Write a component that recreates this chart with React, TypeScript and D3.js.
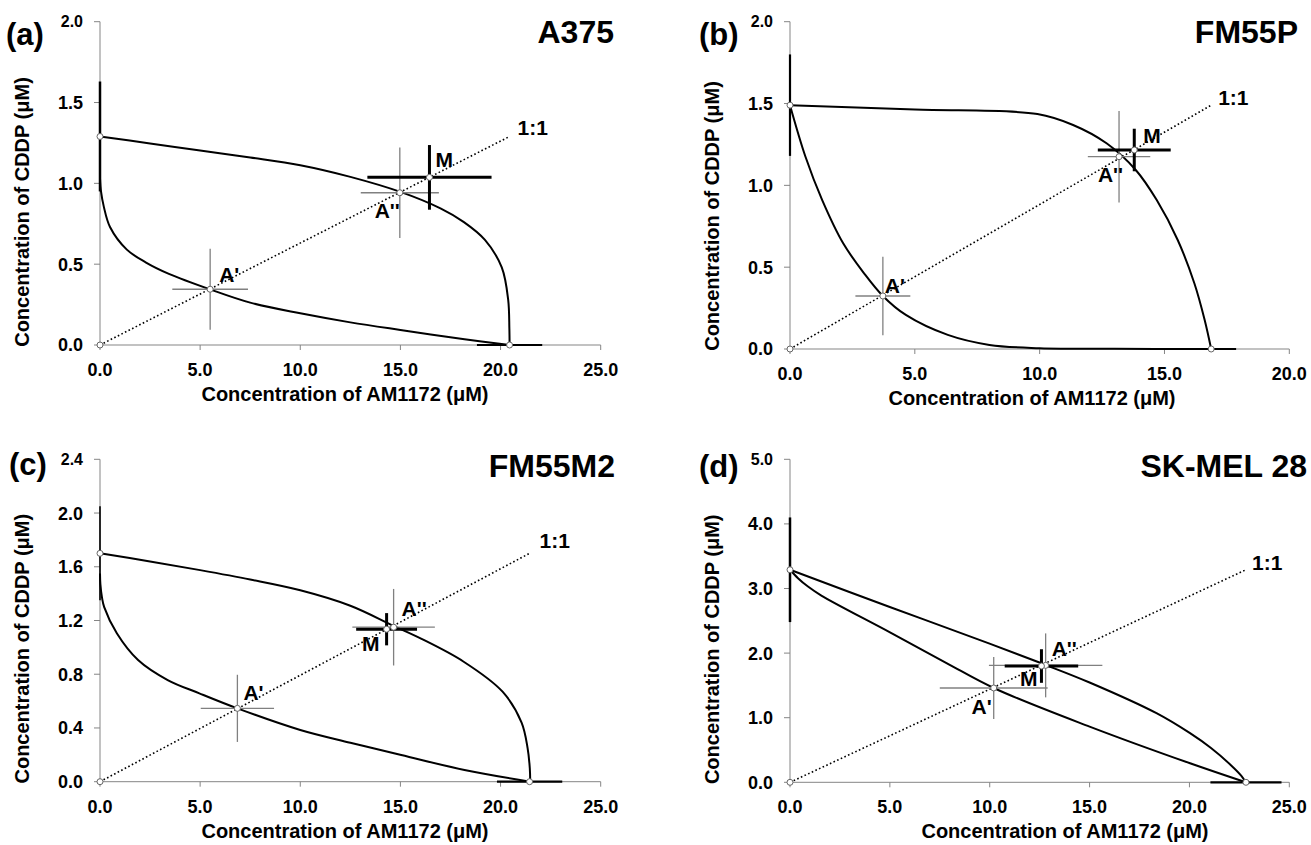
import * as d3 from "d3";

// panel labels and cell lines
const panelLetters = ["(a)", "(b)", "(c)", "(d)"];
const cellLines = ["A375", "FM55P", "FM55M2", "SK-MEL 28"];

// axis ranges and tick values
const xMax = [25, 20, 25, 25];
const yMax = [2.0, 2.0, 2.4, 5.0];
const xTickValues = [
  [0, 5, 10, 15, 20, 25],
  [0, 5, 10, 15, 20],
  [0, 5, 10, 15, 20, 25],
  [0, 5, 10, 15, 20, 25],
];
const yTickValues = [
  [0, 0.5, 1.0, 1.5, 2.0],
  [0, 0.5, 1.0, 1.5, 2.0],
  [0, 0.4, 0.8, 1.2, 1.6, 2.0, 2.4],
  [0, 1, 2, 3, 4, 5],
];

// isobole curves [AM1172, CDDP]
const upperA = [[0, 1.29], [2.5, 1.247], [5, 1.203], [7.5, 1.16], [10, 1.112], [12.5, 1.04], [15, 0.947], [17, 0.845], [18.17, 0.76], [19.22, 0.65], [20.06, 0.48], [20.38, 0.28], [20.44, 0.1], [20.45, 0]];
const lowerA = [[0, 1.03], [0.05, 0.95], [0.19, 0.856], [0.5, 0.73], [1.34, 0.59], [2.3, 0.51], [3.44, 0.44], [5.5, 0.344], [7.5, 0.262], [10, 0.196], [12.5, 0.14], [15, 0.093], [18.2, 0.036], [20.45, 0]];
const upperB = [[0, 1.49], [5, 1.463], [9.91, 1.436], [11.34, 1.369], [12.68, 1.257], [13.85, 1.094], [14.69, 0.91], [15.53, 0.666], [16.2, 0.4], [16.61, 0.177], [16.87, 0]];
const lowerB = [[0, 1.49], [0.62, 1.175], [1.29, 0.91], [2.13, 0.646], [2.97, 0.462], [3.72, 0.324], [4.64, 0.208], [6.32, 0.086], [7.99, 0.025], [10, 0.005], [13, 0.001], [16.87, 0]];
const upperC = [[0, 1.7], [2.5, 1.64], [5, 1.575], [7.5, 1.505], [10, 1.425], [12.5, 1.31], [14.66, 1.16], [16.03, 1.065], [18.14, 0.895], [20.1, 0.67], [21.05, 0.44], [21.35, 0.25], [21.46, 0.1], [21.48, 0]];
const lowerC = [[0, 1.55], [0.02, 1.47], [0.1, 1.37], [0.21, 1.3], [0.84, 1.105], [1.9, 0.906], [3.38, 0.757], [4.96, 0.658], [6.86, 0.546], [10, 0.385], [12.5, 0.29], [15.04, 0.199], [18.2, 0.087], [21.48, 0]];
const upperD = [[0, 3.29], [5.03, 2.71], [9.96, 2.15], [12.77, 1.82], [15, 1.545], [18.35, 1.07], [20.03, 0.76], [21.08, 0.53], [22.13, 0.25], [22.6, 0.1], [22.82, 0]];
const lowerD = [[0, 3.29], [0.4, 3.16], [0.9, 3.03], [1.57, 2.89], [5.03, 2.317], [7.86, 1.842], [10.2, 1.46], [15, 0.862], [20.03, 0.294], [22.82, 0]];
const upperCurves = [upperA, upperB, upperC, upperD];
const lowerCurves = [lowerA, lowerB, lowerC, lowerD];

// single drugs (IC50) with errors
const cddpAlone = [1.29, 1.49, 1.7, 3.29];
const cddpAloneErr = [0.34, 0.31, 0.35, 0.81];
const am1172Alone = [20.45, 16.87, 21.45, 22.83];
const am1172AloneErr = [1.63, 1.0, 1.63, 1.78];

// [x, y, xErr, yErr]
const aPrime = [[5.5, 0.345, 1.89, 0.25], [3.72, 0.324, 1.1, 0.24], [6.86, 0.546, 1.83, 0.25], [10.2, 1.46, 2.7, 0.48]];
const aDouble = [[14.97, 0.942, 1.95, 0.28], [13.18, 1.175, 1.25, 0.28], [14.66, 1.15, 2.06, 0.285], [12.8, 1.81, 2.84, 0.495]];
const mixM = [[16.45, 1.037, 3.1, 0.2], [13.79, 1.216, 1.46, 0.13], [14.31, 1.135, 1.52, 0.12], [12.59, 1.8, 1.84, 0.26]];

// layout
const frames = [
  { left: 100, right: 600.7, top: 21.7, bottom: 345 },
  { left: 790, right: 1289.3, top: 21.7, bottom: 349 },
  { left: 100, right: 600.7, top: 459.3, bottom: 781.7 },
  { left: 790, right: 1289.3, top: 459.3, bottom: 782.3 },
];
const titleRight = [614, 1298, 615, 1307];
const titleBase = [43, 43, 477, 477];
const letterPos = [[6, 45], [699, 45], [9, 475], [699, 477]];
const xTitleX = [345, 1032, 345, 1065];
// label offsets [dx, dy, anchor]
const labelAP: [number, number, string][] = [[9, -7, "start"], [2, -3, "start"], [6, -8, "start"], [-2, 26, "end"]];
const labelAPP: [number, number, string][] = [[0, 25, "end"], [4, 25, "end"], [8, -11, "start"], [6, -9, "start"]];
const labelM: [number, number, string][] = [[6, -10, "start"], [9, -7, "start"], [-7, 22, "end"], [-4, 20, "end"]];
const labelRatio: [number, number][] = [[8, -1.5], [7, 0], [10, -5], [6, 0]];
const dBarWidth = [2.5, 2.2, 1.6, 2.5];

const FONT = "'Liberation Sans', Arial, Helvetica, sans-serif";
const axisColor = "#858585";
const barGray = "#808080";
const fmt = d3.format(".1f");

function Panel({ i }: { i: number }) {
  const f = frames[i];
  const x = d3.scaleLinear().domain([0, xMax[i]]).range([f.left, f.right]);
  const y = d3.scaleLinear().domain([0, yMax[i]]).range([f.bottom, f.top]);
  const line = d3
    .line<number[]>()
    .x((d) => x(d[0]))
    .y((d) => y(d[1]))
    .curve(d3.curveCatmullRom.alpha(0.5));

  const errBar = (p: number[], color: string, w: number) => (
    <g stroke={color} strokeWidth={w}>
      <line x1={x(p[0] - p[2])} x2={x(p[0] + p[2])} y1={y(p[1])} y2={y(p[1])} />
      <line x1={x(p[0])} x2={x(p[0])} y1={y(p[1] - p[3])} y2={y(p[1] + p[3])} />
    </g>
  );
  const label = (p: number[], o: [number, number, string], txt: string) => (
    <text x={x(p[0]) + o[0]} y={y(p[1]) + o[1]} textAnchor={o[2] as any} fontSize={21} fontWeight="bold">
      {txt}
    </text>
  );
  const markers = [[0, cddpAlone[i]], [am1172Alone[i], 0], [0, 0], aPrime[i], aDouble[i], mixM[i]];

  return (
    <g>
      {/* axes */}
      <line x1={x(0)} x2={x(0)} y1={y(0)} y2={y(yMax[i])} stroke={axisColor} />
      <line x1={x(0)} x2={x(xMax[i])} y1={y(0)} y2={y(0)} stroke={axisColor} />
      {yTickValues[i].map((v) => (
        <g key={"y" + v}>
          <line x1={x(0) - 6} x2={x(0)} y1={y(v)} y2={y(v)} stroke={axisColor} />
          <text x={x(0) - 17} y={y(v)} dy="0.36em" textAnchor="end" fontSize={v === yMax[i] ? 16 : 18} fontWeight="bold">
            {fmt(v)}
          </text>
        </g>
      ))}
      {xTickValues[i].map((v) => (
        <g key={"x" + v}>
          <line x1={x(v)} x2={x(v)} y1={y(0)} y2={y(0) + 5} stroke={axisColor} />
          <text x={x(v)} y={y(0) + 31} textAnchor="middle" fontSize={18} fontWeight="bold">
            {fmt(v)}
          </text>
        </g>
      ))}
      <text x={xTitleX[i]} y={f.bottom + 56} textAnchor="middle" fontSize={20} fontWeight="bold">
        Concentration of AM1172 (μM)
      </text>
      <text
        transform={`translate(${f.left - 78},${f.bottom - 133}) rotate(-90)`}
        dy="0.36em"
        textAnchor="middle"
        fontSize={20}
        fontWeight="bold"
      >
        Concentration of CDDP (μM)
      </text>

      {/* isoboles */}
      <path d={line(upperCurves[i]) || ""} fill="none" stroke="#000" strokeWidth={2} />
      <path d={line(lowerCurves[i]) || ""} fill="none" stroke="#000" strokeWidth={2} />
      <line
        x1={x(0)}
        y1={y(0)}
        x2={x(am1172Alone[i])}
        y2={y(cddpAlone[i])}
        stroke="#000"
        strokeWidth={1.6}
        strokeDasharray="1.6 2.4"
      />

      {/* error bars */}
      <line
        x1={x(0)}
        x2={x(0)}
        y1={y(cddpAlone[i] - cddpAloneErr[i])}
        y2={y(cddpAlone[i] + cddpAloneErr[i])}
        stroke="#000"
        strokeWidth={dBarWidth[i]}
      />
      <line
        x1={x(am1172Alone[i] - am1172AloneErr[i])}
        x2={x(am1172Alone[i] + am1172AloneErr[i])}
        y1={y(0)}
        y2={y(0)}
        stroke="#000"
        strokeWidth={2.2}
      />
      {errBar(aPrime[i], barGray, 1.3)}
      {errBar(aDouble[i], barGray, 1.3)}
      {errBar(mixM[i], "#000", 3)}

      {markers.map((p, k) => (
        <circle key={k} cx={x(p[0])} cy={y(p[1])} r={3} fill="#fff" stroke="#666" strokeWidth={1} />
      ))}

      {label(aPrime[i], labelAP[i], "A'")}
      {label(aDouble[i], labelAPP[i], "A''")}
      {label(mixM[i], labelM[i], "M")}
      <text
        x={x(am1172Alone[i]) + labelRatio[i][0]}
        y={y(cddpAlone[i]) + labelRatio[i][1]}
        fontSize={21}
        fontWeight="bold"
      >
        1:1
      </text>

      <text x={titleRight[i]} y={titleBase[i]} textAnchor="end" fontSize={32} fontWeight="bold">
        {cellLines[i]}
      </text>
      <text x={letterPos[i][0]} y={letterPos[i][1]} fontSize={31} fontWeight="bold">
        {panelLetters[i]}
      </text>
    </g>
  );
}

export default function App() {
  return (
    <svg
      width={1311}
      height={845}
      fontFamily={FONT}
      style={{ position: "absolute", left: 0, top: 0, display: "block", background: "#fff" }}
    >
      <rect width={1311} height={845} fill="#fff" />
      {panelLetters.map((_, i) => (
        <Panel key={i} i={i} />
      ))}
    </svg>
  );
}
